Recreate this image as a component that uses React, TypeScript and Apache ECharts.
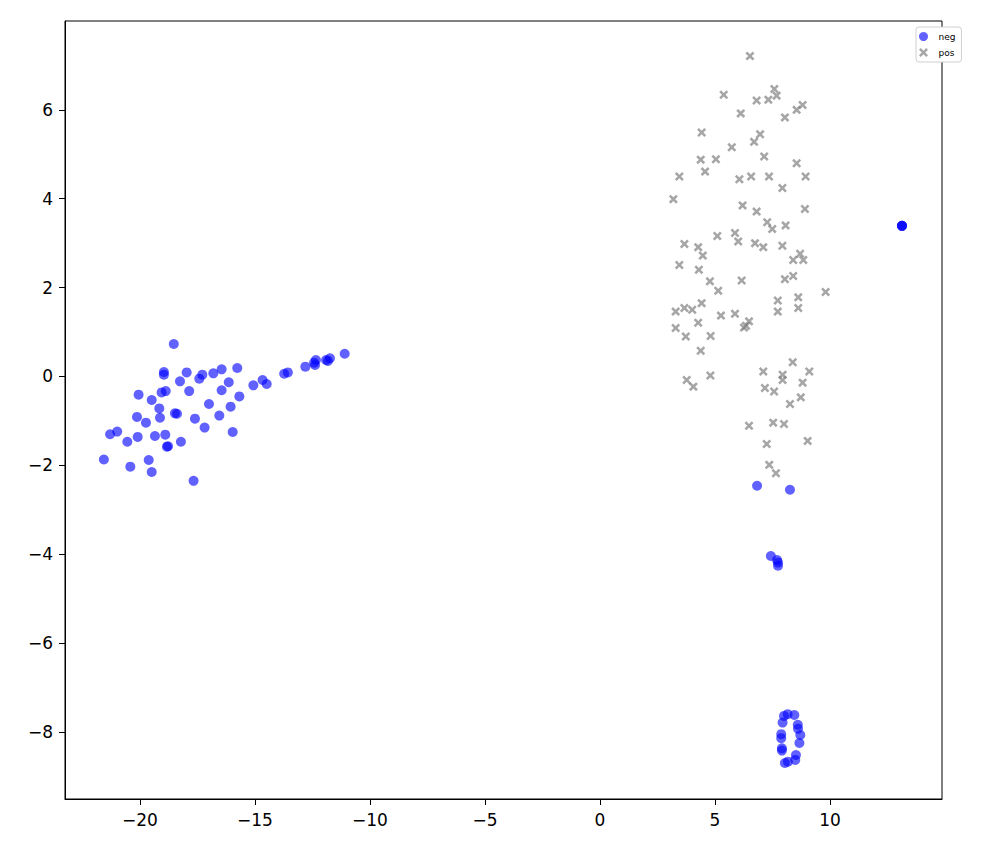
import React, { useEffect, useRef } from "react";
import * as echarts from "echarts";

const seriesNames = ["neg", "pos"];
const xTicks = [-20, -15, -10, -5, 0, 5, 10];
const yTicks = [-8, -6, -4, -2, 0, 2, 4, 6];

const negPoints: [number, number][] = [
  [-18.53, 0.73], [-18.96, 0.1], [-18.96, 0.04], [-17.97, 0.09], [-18.26, -0.11],
  [-17.29, 0.04], [-17.42, -0.05], [-16.81, 0.07], [-16.45, 0.16], [-15.77, 0.19],
  [-16.14, -0.13], [-16.45, -0.31], [-15.68, -0.45], [-15.07, -0.2], [-14.67, -0.08],
  [-14.49, -0.17], [-17.86, -0.33], [-18.88, -0.33], [-19.06, -0.36], [-20.06, -0.41],
  [-19.49, -0.53], [-19.16, -0.72], [-17.0, -0.62], [-16.06, -0.68], [-16.55, -0.88],
  [-18.48, -0.83], [-18.39, -0.84], [-20.13, -0.91], [-19.74, -1.04], [-19.13, -0.93],
  [-17.61, -0.95], [-17.19, -1.15], [-15.97, -1.25], [-21.3, -1.3], [-20.99, -1.24],
  [-20.55, -1.47], [-20.1, -1.36], [-19.35, -1.34], [-18.9, -1.31], [-18.22, -1.47],
  [-18.78, -1.57], [-18.83, -1.58], [-21.57, -1.87], [-20.42, -2.03], [-19.62, -1.88],
  [-19.49, -2.15], [-17.67, -2.35],
  [-13.73, 0.06], [-13.57, 0.09], [-12.81, 0.22], [-12.39, 0.26], [-12.43, 0.31],
  [-12.35, 0.37], [-11.91, 0.37], [-11.83, 0.35], [-11.74, 0.41], [-11.1, 0.51],
  [6.83, -2.46], [8.26, -2.55], [7.43, -4.04], [7.7, -4.13], [7.74, -4.19], [7.74, -4.26],
  [8.16, -7.6], [8.45, -7.62], [7.94, -7.79], [8.6, -7.84], [7.88, -8.05], [8.71, -8.07],
  [7.88, -8.14], [8.67, -8.25], [7.91, -8.37], [7.91, -8.42], [8.52, -8.52], [8.49, -8.63],
  [8.17, -8.67], [8.04, -8.7], [8.61, -7.93], [8.0, -7.64],
  [13.13, 3.39], [13.13, 3.39], [13.13, 3.39],
];

const posPoints: [number, number][] = [
  [6.52, 7.21], [5.38, 6.34], [7.58, 6.47], [7.68, 6.32], [7.32, 6.23], [6.81, 6.21],
  [6.12, 5.92], [8.04, 5.83], [8.55, 6.0], [8.81, 6.11], [4.42, 5.49], [6.96, 5.45],
  [6.7, 5.28], [5.73, 5.16], [7.14, 4.95], [4.38, 4.88], [5.04, 4.89], [4.57, 4.61],
  [8.55, 4.8], [3.45, 4.5], [6.06, 4.44], [6.57, 4.5], [7.35, 4.5], [8.94, 4.5],
  [7.93, 4.24], [3.19, 3.99], [6.2, 3.85], [6.81, 3.71], [8.91, 3.77], [7.27, 3.47],
  [7.49, 3.32], [8.07, 3.4], [5.1, 3.16], [5.87, 3.23], [6.01, 3.04], [3.67, 2.98],
  [4.27, 2.91], [4.47, 2.72], [6.74, 3.0], [7.1, 2.91], [7.93, 2.94], [8.7, 2.76],
  [8.4, 2.62], [8.84, 2.62], [3.45, 2.51], [4.3, 2.4], [4.78, 2.14], [5.14, 1.93],
  [6.16, 2.16], [8.04, 2.19], [8.4, 2.26], [9.81, 1.9], [7.73, 1.71], [7.73, 1.46],
  [8.62, 1.78], [8.62, 1.54], [3.29, 1.46], [3.67, 1.54], [4.01, 1.5], [4.42, 1.65],
  [5.26, 1.37], [5.87, 1.41], [4.27, 1.21], [6.48, 1.24], [6.26, 1.1], [6.35, 1.14],
  [3.29, 1.09], [3.73, 0.9], [4.81, 0.91], [4.38, 0.58], [8.38, 0.32], [7.1, 0.11],
  [7.94, 0.04], [7.94, -0.08], [9.1, 0.11], [8.81, -0.14], [3.77, -0.08], [4.06, -0.23],
  [4.8, 0.02], [7.17, -0.26], [7.57, -0.34], [8.73, -0.47], [8.26, -0.62], [6.48, -1.11],
  [7.53, -1.04], [8.0, -1.07], [9.03, -1.45], [7.25, -1.52], [7.36, -1.99], [7.65, -2.18],
];

const crossPath =
  "path://M0.2,0 L0.5,0.3 L0.8,0 L1,0.2 L0.7,0.5 L1,0.8 L0.8,1 L0.5,0.7 L0.2,1 L0,0.8 L0.3,0.5 L0,0.2 Z";

const fmt = (v: number) => String(v).replace("-", "\u2212");

export default function App() {
  const ref = useRef<HTMLDivElement>(null);
  useEffect(() => {
    if (!ref.current) return;
    const chart = echarts.init(ref.current, null, { renderer: "svg" });
    const font = "DejaVu Sans";
    chart.setOption({
      animation: false,
      textStyle: { fontFamily: font },
      grid: {
        left: 65,
        right: 55,
        top: 21,
        bottom: 55,
        show: true,
        borderColor: "#000",
        borderWidth: 1,
        backgroundColor: "transparent",
      },
      legend: {
        orient: "vertical",
        left: 916,
        top: 27,
        itemWidth: 20,
        itemHeight: 9,
        itemGap: 7,
        padding: [5, 6, 5, 3],
        borderColor: "#d0d0d0",
        borderWidth: 1,
        borderRadius: 3,
        backgroundColor: "#fff",
        textStyle: { fontSize: 9, color: "#000", fontFamily: font },
        data: seriesNames,
      },
      xAxis: {
        type: "value",
        min: -23.26,
        max: 14.87,
        splitLine: { show: false },
        axisLine: { show: true, onZero: false, lineStyle: { color: "#000" } },
        axisTick: { show: true, length: 6, lineStyle: { color: "#000" }, customValues: xTicks },
        axisLabel: { color: "#000", fontSize: 17, margin: 12, customValues: xTicks, formatter: fmt },
      },
      yAxis: {
        type: "value",
        min: -9.51,
        max: 8.0,
        splitLine: { show: false },
        axisLine: { show: true, onZero: false, lineStyle: { color: "#000" } },
        axisTick: { show: true, length: 6, lineStyle: { color: "#000" }, customValues: yTicks },
        axisLabel: { color: "#000", fontSize: 17, margin: 12, customValues: yTicks, formatter: fmt },
      },
      series: [
        {
          name: seriesNames[0],
          type: "scatter",
          symbol: "circle",
          symbolSize: 10,
          data: negPoints,
          itemStyle: { color: "#0000ff", opacity: 0.62 },
        },
        {
          name: seriesNames[1],
          type: "scatter",
          symbol: crossPath,
          symbolSize: 9,
          data: posPoints,
          itemStyle: { color: "#808080", opacity: 0.7 },
        },
      ],
    });
    return () => chart.dispose();
  }, []);
  return <div ref={ref} style={{ width: 997, height: 854, margin: -8 }} />;
}
